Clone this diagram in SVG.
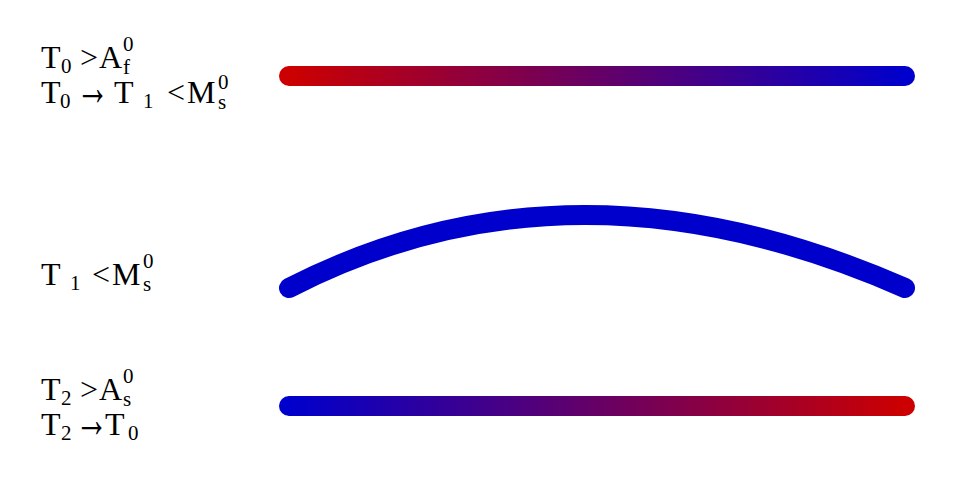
<svg xmlns="http://www.w3.org/2000/svg" width="960" height="491" viewBox="0 0 960 491">
<style>
text{font-family:"Liberation Serif","DejaVu Serif",serif;fill:#000}
.m{font-size:32px}
.s{font-size:21px}
.a{font-size:52px}
.l{fill:none;stroke-width:20;stroke-linecap:round}
</style>
<defs>
<linearGradient id="rb" gradientUnits="userSpaceOnUse" x1="289" y1="0" x2="905" y2="0">
<stop offset="0" stop-color="#cc0000"/><stop offset="1" stop-color="#0000cc"/>
</linearGradient>
<linearGradient id="br" gradientUnits="userSpaceOnUse" x1="289" y1="0" x2="905" y2="0">
<stop offset="0" stop-color="#0000cc"/><stop offset="1" stop-color="#cc0000"/>
</linearGradient>
</defs>
<g id="label1">
<text class="m" x="41" y="68">T</text><text class="s" x="61" y="73">0</text>
<text class="m" x="80" y="68">&gt;</text><text class="m" x="99" y="68">A</text>
<text class="s" x="123" y="51">0</text><text class="s" x="123" y="74">f</text>
<text class="m" x="41" y="103">T</text><text class="s" x="60" y="108">0</text>
<text class="a" x="76" y="104.5" textLength="33" lengthAdjust="spacingAndGlyphs">→</text>
<text class="m" x="114" y="103">T</text><text class="s" x="143" y="108">1</text>
<text class="m" x="167" y="103">&lt;</text><text class="m" x="187" y="103">M</text>
<text class="s" x="218" y="89">0</text><text class="s" x="218" y="109">s</text>
</g>
<g id="label2">
<text class="m" x="41" y="285">T</text><text class="s" x="70" y="290">1</text>
<text class="m" x="92" y="285">&lt;</text><text class="m" x="112" y="285">M</text>
<text class="s" x="143" y="268">0</text><text class="s" x="143" y="291">s</text>
</g>
<g id="label3">
<text class="m" x="41" y="400">T</text><text class="s" x="61" y="405">2</text>
<text class="m" x="80" y="400">&gt;</text><text class="m" x="99" y="400">A</text>
<text class="s" x="123" y="383">0</text><text class="s" x="123" y="406">s</text>
<text class="m" x="41" y="435">T</text><text class="s" x="61" y="440">2</text>
<text class="a" x="75" y="436.5" textLength="33" lengthAdjust="spacingAndGlyphs">→</text>
<text class="m" x="105" y="435">T</text><text class="s" x="128" y="440">0</text>
</g>
<g id="connectors">
<path class="l" stroke="url(#rb)" d="M289 76H905"/>
<path class="l" stroke="#0000cc" d="M289 288Q573 142 905 288"/>
<path class="l" stroke="url(#br)" d="M289 406H905"/>
</g>
</svg>
